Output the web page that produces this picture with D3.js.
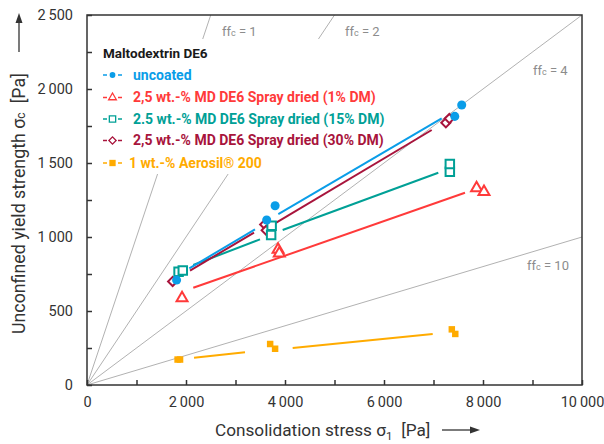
<!DOCTYPE html>
<html><head><meta charset="utf-8">
<script src="https://cdn.jsdelivr.net/npm/d3@7/dist/d3.min.js"></script>
<style>body{margin:0;background:#fff} text{font-family:Roboto,"Noto Sans",sans-serif}</style>
</head><body><svg id="c" width="604" height="444"></svg>
<script>
// ---- data ----
const xTickValues = [0, 2000, 4000, 6000, 8000, 10000];
const xTickLabels = ["0", "2\u2009000", "4\u2009000", "6\u2009000", "8\u2009000", "10\u2009000"];
const yTickValues = [0, 500, 1000, 1500, 2000, 2500];
const yTickLabels = ["0", "500", "1\u2009000", "1\u2009500", "2\u2009000", "2\u2009500"];
const ffValues = [1, 2, 4, 10];

const uncoatedX = [1810, 3630, 3800, 7430, 7570];
const uncoatedY = [709, 1115, 1211, 1815, 1892];
const dm1X = [1920, 3860, 3885, 7870, 8020];
const dm1Y = [588, 915, 890, 1330, 1306];
const dm15X = [1850, 1935, 3720, 3730, 7330, 7330];
const dm15Y = [765, 773, 1013, 1076, 1441, 1493];
const dm30X = [1730, 3590, 3620, 7250, 7320];
const dm30Y = [700, 1085, 1045, 1772, 1800];
const aerosilX = [1830, 1880, 3700, 3800, 7370, 7440];
const aerosilY = [172, 172, 277, 245, 376, 345];

// trend line segments [x1, y1, x2, y2]
const uncoatedFit = [[2067, 788, 3394, 1052], [3865, 1155, 7165, 1802]];
const dm30Fit = [[2081, 773, 3374, 1030], [3798, 1092, 6964, 1723]];
const dm15Fit = [[2147, 811, 3495, 984], [3953, 1047, 7097, 1434]];
const dm1Fit = [[2147, 657, 7636, 1299]];
const aerosilFit = [[2162, 184, 3192, 221], [4155, 250, 6984, 345]];

const legendTitle = "Maltodextrin DE6";
const legendLabels = ["uncoated", "2,5 wt.-% MD DE6 Spray dried (1% DM)", "2.5 wt.-% MD DE6 Spray dried (15% DM)", "2,5 wt.-% MD DE6 Spray dried (30% DM)", "1 wt.-% Aerosil\u00AE 200"];

// ---- style ----
const C = {blue: "#0a9de8", red: "#ff3a3a", teal: "#00a096", dred: "#a8143c", orange: "#ffab00"};

const svg = d3.select("#c");
const x = d3.scaleLinear().domain([0, 10000]).range([87, 582]);
const y = d3.scaleLinear().domain([0, 2500]).range([385, 15]);

// ff lines
const ffG = svg.append("g");
ffValues.forEach(f => {
  const xe = Math.min(10000, 2500 * f);
  ffG.append("line").attr("x1", x(0)).attr("y1", y(0)).attr("x2", x(xe)).attr("y2", y(xe / f))
    .attr("stroke", "#a8a8a8").attr("stroke-width", 0.9);
});

// legend background
svg.append("rect").attr("x", 95).attr("y", 39).attr("width", 297).attr("height", 112).attr("fill", "#fff");
svg.append("rect").attr("x", 95).attr("y", 150).attr("width", 175).attr("height", 24).attr("fill", "#fff");

// ff labels
function ffLabel(px, py, val) {
  const t = svg.append("text").attr("x", px).attr("y", py).attr("fill", "#8c8c8c").attr("font-size", 13);
  t.append("tspan").text("ff");
  t.append("tspan").attr("font-size", 9).text("c");
  t.append("tspan").text(" = " + val);
}
ffLabel(222, 36, ffValues[0]);
ffLabel(345, 36, ffValues[1]);
ffLabel(533, 75, ffValues[2]);
ffLabel(527, 270, ffValues[3]);

// frame
svg.append("rect").attr("x", x(0)).attr("y", y(2500)).attr("width", x(10000) - x(0)).attr("height", y(0) - y(2500))
  .attr("fill", "none").attr("stroke", "#333").attr("stroke-width", 1.5);

// axes
const xAxis = d3.axisBottom(x).tickValues(d3.range(0, 10001, 1000)).tickSize(-5).tickPadding(12)
  .tickFormat(d => { const i = xTickValues.indexOf(d); return i >= 0 ? xTickLabels[i] : ""; });
const gx = svg.append("g").attr("transform", `translate(0,${y(0)})`).call(xAxis);
const yAxis = d3.axisLeft(y).tickValues(d3.range(0, 2501, 250)).tickSize(-5).tickPadding(14)
  .tickFormat(d => { const i = yTickValues.indexOf(d); return i >= 0 ? yTickLabels[i] : ""; });
const gy = svg.append("g").attr("transform", `translate(${x(0)},0)`).call(yAxis);
[gx, gy].forEach(g => {
  g.select(".domain").remove();
  g.selectAll(".tick line").attr("stroke", "#333").attr("stroke-width", 1.5);
  g.selectAll(".tick text").attr("fill", "#333").attr("font-size", 14.5).attr("font-family", "Roboto");
});

// axis titles
const xt = svg.append("text").attr("x", 215).attr("y", 436).attr("fill", "#333").attr("font-size", 17.2);
xt.append("tspan").text("Consolidation stress \u03C3");
xt.append("tspan").attr("font-size", 11.5).attr("dy", 4).text("1");
xt.append("tspan").attr("dy", -4).text("\u2002[Pa]");
svg.append("line").attr("x1", 442).attr("y1", 430).attr("x2", 474).attr("y2", 430).attr("stroke", "#333").attr("stroke-width", 1.3);
svg.append("path").attr("d", "M480,430 L470,426.5 L470,433.5 Z").attr("fill", "#333");

const yt = svg.append("text").attr("transform", "translate(25,334) rotate(-90)").attr("fill", "#333").attr("font-size", 17.8);
yt.append("tspan").text("Unconfined yield strength \u03C3");
yt.append("tspan").attr("font-size", 12).text("c");
yt.append("tspan").text("\u2002[Pa]");
svg.append("line").attr("x1", 19).attr("y1", 52).attr("x2", 19).attr("y2", 20).attr("stroke", "#333").attr("stroke-width", 1.3);
svg.append("path").attr("d", "M19,13 L15.5,23 L22.5,23 Z").attr("fill", "#333");

// trend lines
function fit(segs, col) {
  svg.append("g").selectAll("line").data(segs).join("line")
    .attr("x1", d => x(d[0])).attr("y1", d => y(d[1])).attr("x2", d => x(d[2])).attr("y2", d => y(d[3]))
    .attr("stroke", col).attr("stroke-width", 2);
}
fit(dm1Fit, C.red);
fit(dm15Fit, C.teal);
fit(dm30Fit, C.dred);
fit(uncoatedFit, C.blue);
fit(aerosilFit, C.orange);

// points
const zip = (a, b) => a.map((v, i) => [v, b[i]]);
function pts(xs, ys, sym, size, col, filled, rot) {
  svg.append("g").selectAll("path").data(zip(xs, ys)).join("path")
    .attr("d", d3.symbol().type(sym).size(size))
    .attr("transform", d => `translate(${x(d[0])},${y(d[1])})` + (rot ? " rotate(45)" : ""))
    .attr("fill", filled ? col : "#fff").attr("stroke", filled ? "none" : col).attr("stroke-width", 2);
}
pts(dm30X, dm30Y, d3.symbolSquare, 42, C.dred, false, true);
pts(dm15X, dm15Y, d3.symbolSquare, 72, C.teal, false, false);
pts(dm1X, dm1Y, d3.symbolTriangle, 52, C.red, false, false);
pts(uncoatedX, uncoatedY, d3.symbolCircle, 64, C.blue, true, false);
pts(aerosilX, aerosilY, d3.symbolSquare, 42, C.orange, true, false);

// legend
svg.append("text").attr("x", 103).attr("y", 57.5).attr("font-size", 13.5).attr("font-weight", "bold").attr("fill", "#1a1a1a").text(legendTitle);
const rows = [
  {c: C.blue, sym: d3.symbolCircle, size: 26, filled: true, rot: false, tx: 133, cy: 75},
  {c: C.red, sym: d3.symbolTriangle, size: 26, filled: false, rot: false, tx: 133, cy: 97.5},
  {c: C.teal, sym: d3.symbolSquare, size: 40, filled: false, rot: false, tx: 133, cy: 119},
  {c: C.dred, sym: d3.symbolSquare, size: 26, filled: false, rot: true, tx: 133, cy: 140.5},
  {c: C.orange, sym: d3.symbolSquare, size: 40, filled: true, rot: false, tx: 129, cy: 163}
];
rows.forEach((r, i) => {
  const g = svg.append("g");
  g.append("line").attr("x1", 103).attr("x2", 107).attr("y1", r.cy).attr("y2", r.cy).attr("stroke", r.c).attr("stroke-width", 1.5);
  g.append("line").attr("x1", 118).attr("x2", 122).attr("y1", r.cy).attr("y2", r.cy).attr("stroke", r.c).attr("stroke-width", 1.5);
  g.append("path").attr("d", d3.symbol().type(r.sym).size(r.size)())
    .attr("transform", `translate(112.5,${r.cy})` + (r.rot ? " rotate(45)" : ""))
    .attr("fill", r.filled ? r.c : "#fff").attr("stroke", r.filled ? "none" : r.c).attr("stroke-width", 1.3);
  g.append("text").attr("x", r.tx).attr("y", r.cy + 4.8).attr("font-size", 14).attr("font-weight", "bold")
    .attr("fill", r.c).text(legendLabels[i]);
});
</script></body></html>
